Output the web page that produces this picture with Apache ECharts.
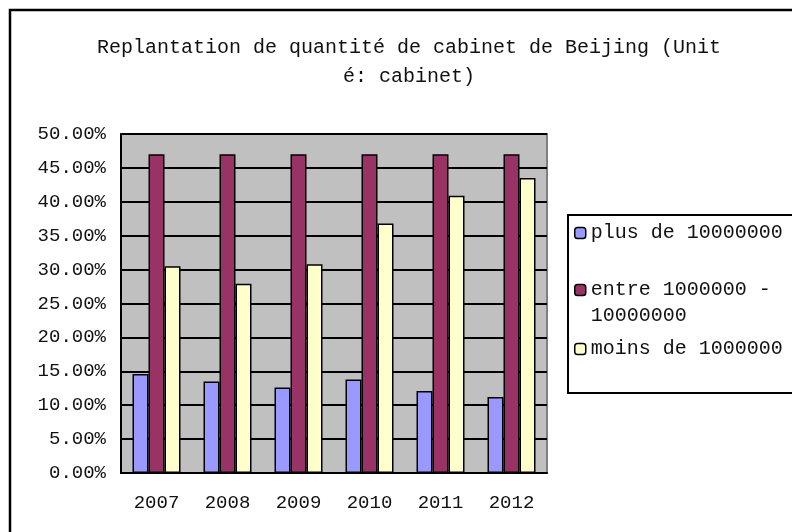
<!DOCTYPE html>
<html>
<head>
<meta charset="utf-8">
<script src="https://cdn.jsdelivr.net/npm/echarts@6/dist/echarts.min.js"></script>
<style>
  html, body { margin: 0; padding: 0; background: #fff; }
  #chart { width: 792px; height: 532px; }
</style>
</head>
<body>
<div id="chart"></div>
<script>
  // data (percent)
  const years = ['2007', '2008', '2009', '2010', '2011', '2012']
  const seriesNames = ['plus de 10000000', 'entre 1000000 - 10000000', 'moins de 1000000']
  const plusDe = [14.6, 13.5, 12.6, 13.8, 12.1, 11.2]
  const entre = [47.0, 47.0, 47.0, 47.0, 47.0, 47.0]
  const moinsDe = [30.5, 27.9, 30.8, 36.8, 40.9, 43.5]
  const colors = ['#9999FF', '#993366', '#FFFFCC']

  const font = '"Liberation Mono", "DejaVu Sans Mono", monospace'
  const chart = echarts.init(document.getElementById('chart'))

  const makeBar = (name, data, color) => ({
    name: name,
    type: 'bar',
    data: data,
    barWidth: 16,
    barGap: '0%',
    itemStyle: { color: color, borderColor: '#000', borderWidth: 1.5 },
    emphasis: { disabled: true }
  })

  const makeLegend = (name, top, extra) => Object.assign({
    data: [name],
    left: 574,
    top: top,
    orient: 'vertical',
    itemWidth: 11,
    itemHeight: 11,
    itemGap: 0,
    padding: 0,
    selectedMode: false,
    itemStyle: { borderColor: '#000', borderWidth: 1.5 },
    textStyle: { fontFamily: font, fontSize: 20, color: '#111' }
  }, extra || {})

  const option = {
    backgroundColor: '#fff',
    animation: false,
    title: {
      text: 'Replantation de quantité de cabinet de Beijing (Unit\né: cabinet)',
      left: 404,
      top: 28,
      textAlign: 'center',
      textStyle: { fontFamily: font, fontSize: 20, fontWeight: 'normal', color: '#111', lineHeight: 29 }
    },
    graphic: [
      {
        type: 'rect',
        shape: { x: 10, y: 10, width: 900, height: 900 },
        style: { fill: 'none', stroke: '#000', lineWidth: 2.5 },
        z: 100
      },
      {
        type: 'rect',
        shape: { x: 568, y: 215, width: 400, height: 178 },
        style: { fill: '#fff', stroke: '#000', lineWidth: 2 },
        z: 0
      }
    ],
    legend: [
      makeLegend(seriesNames[0], 223),
      makeLegend(seriesNames[1], 251, {
        // blank first line keeps the icon level with the first text line
        formatter: () => ' \nentre 1000000 -\n10000000',
        textStyle: { fontFamily: font, fontSize: 20, color: '#111', lineHeight: 26 }
      }),
      makeLegend(seriesNames[2], 339)
    ],
    grid: {
      left: 121, top: 134, width: 426, height: 339,
      show: true,
      backgroundColor: '#C0C0C0',
      borderColor: '#808080',
      borderWidth: 2
    },
    xAxis: {
      type: 'category',
      data: years,
      axisLine: { lineStyle: { color: '#000', width: 2 } },
      axisTick: { inside: true, length: 6, lineStyle: { color: '#000', width: 2 } },
      axisLabel: { fontFamily: font, fontSize: 19, color: '#111', margin: 20 }
    },
    yAxis: {
      type: 'value',
      min: 0,
      max: 50,
      interval: 5,
      axisLine: { show: true, lineStyle: { color: '#000', width: 2 } },
      axisTick: { show: false },
      splitLine: { lineStyle: { color: '#000', width: 2 } },
      axisLabel: {
        fontFamily: font, fontSize: 19, color: '#111', margin: 15,
        formatter: v => v.toFixed(2) + '%'
      }
    },
    series: [
      makeBar(seriesNames[0], plusDe, colors[0]),
      makeBar(seriesNames[1], entre, colors[1]),
      makeBar(seriesNames[2], moinsDe, colors[2])
    ]
  }

  chart.setOption(option)
</script>
</body>
</html>
